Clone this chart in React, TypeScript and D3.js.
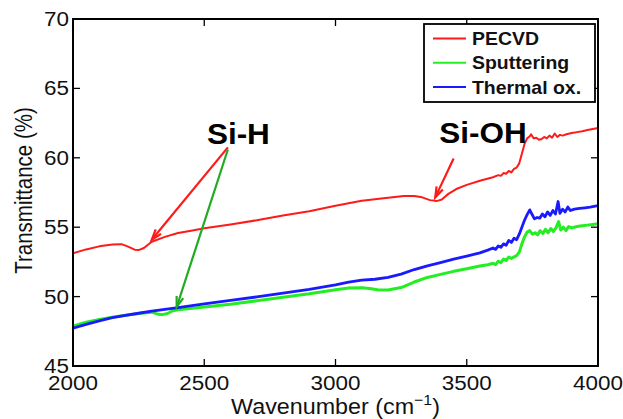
import React from "react";
import * as d3 from "d3";

const xTicks = [2000, 2500, 3000, 3500, 4000];
const yTicks = [45, 50, 55, 60, 65, 70];
const seriesNames = ["PECVD", "Sputtering", "Thermal ox."];
const seriesColors = ["#ff1a1a", "#22ee22", "#1a1aff"];

const pecvd: [number, number][] = [
  [2000, 53.12], [2050, 53.4], [2100, 53.62], [2150, 53.76], [2185, 53.78], [2210, 53.6], [2235, 53.38],
  [2250, 53.35], [2270, 53.5], [2300, 53.95], [2350, 54.3], [2400, 54.58], [2450, 54.75], [2500, 54.92],
  [2600, 55.2], [2700, 55.5], [2800, 55.85], [2900, 56.15], [3000, 56.55], [3100, 56.9], [3200, 57.12],
  [3260, 57.24], [3300, 57.25], [3330, 57.15], [3360, 56.95], [3385, 56.88], [3405, 57.0], [3430, 57.4],
  [3460, 57.75], [3500, 58.05], [3550, 58.35], [3600, 58.6], [3620, 58.75], [3630, 58.7], [3640, 58.9],
  [3650, 58.85], [3660, 59.05], [3670, 58.95], [3680, 59.2], [3690, 59.3], [3700, 59.6], [3710, 60.3],
  [3720, 61.0], [3730, 61.4], [3740, 61.55], [3745, 61.7], [3755, 61.4], [3765, 61.45], [3775, 61.3],
  [3785, 61.35], [3795, 61.5], [3805, 61.4], [3815, 61.6], [3825, 61.45], [3835, 61.75], [3845, 61.5],
  [3855, 61.65], [3865, 61.6], [3880, 61.7], [3900, 61.78], [3920, 61.85], [3940, 61.92], [3960, 62.0],
  [3980, 62.08], [4000, 62.15],
];

const sputtering: [number, number][] = [
  [2000, 47.88], [2050, 48.15], [2100, 48.35], [2150, 48.52], [2200, 48.65], [2250, 48.78], [2300, 48.88],
  [2320, 48.75], [2340, 48.7], [2360, 48.78], [2380, 48.98], [2400, 49.05], [2500, 49.25], [2600, 49.45],
  [2700, 49.7], [2800, 49.95], [2900, 50.2], [3000, 50.5], [3050, 50.62], [3100, 50.64], [3130, 50.58],
  [3160, 50.5], [3200, 50.48], [3250, 50.65], [3300, 51.05], [3350, 51.38], [3400, 51.6], [3450, 51.82],
  [3500, 52.0], [3550, 52.2], [3580, 52.3], [3600, 52.4], [3610, 52.3], [3620, 52.55], [3630, 52.45],
  [3640, 52.7], [3650, 52.6], [3660, 52.85], [3670, 52.75], [3690, 52.95], [3700, 53.2], [3710, 53.8],
  [3720, 54.3], [3730, 54.65], [3740, 54.75], [3750, 54.5], [3760, 54.6], [3770, 54.45], [3780, 54.75],
  [3790, 54.55], [3800, 54.85], [3810, 54.6], [3820, 54.9], [3830, 54.7], [3840, 54.95], [3850, 55.4],
  [3858, 54.8], [3868, 55.0], [3878, 54.75], [3888, 55.05], [3900, 54.95], [3920, 55.05], [3940, 55.1],
  [3960, 55.15], [3980, 55.2], [4000, 55.25],
];

const thermal: [number, number][] = [
  [2000, 47.72], [2050, 48.0], [2100, 48.25], [2150, 48.48], [2200, 48.65], [2250, 48.8], [2300, 48.95],
  [2350, 49.08], [2400, 49.2], [2500, 49.48], [2600, 49.72], [2700, 49.98], [2800, 50.25], [2900, 50.52],
  [3000, 50.85], [3050, 51.05], [3100, 51.18], [3150, 51.25], [3200, 51.38], [3250, 51.62], [3300, 51.95],
  [3350, 52.22], [3400, 52.45], [3450, 52.7], [3500, 52.92], [3550, 53.15], [3580, 53.35], [3600, 53.5],
  [3610, 53.4], [3620, 53.65], [3630, 53.55], [3640, 53.8], [3650, 53.7], [3660, 54.05], [3670, 53.9],
  [3680, 54.2], [3690, 54.1], [3700, 54.5], [3710, 55.0], [3720, 55.5], [3730, 55.9], [3740, 56.25],
  [3748, 55.95], [3758, 55.6], [3768, 55.7], [3778, 55.65], [3788, 55.95], [3798, 55.75], [3808, 56.1],
  [3818, 55.85], [3828, 56.2], [3838, 55.95], [3848, 56.85], [3855, 56.0], [3865, 56.3], [3875, 56.1],
  [3885, 56.45], [3895, 56.2], [3910, 56.3], [3930, 56.35], [3950, 56.4], [3970, 56.45], [3985, 56.5],
  [4000, 56.55],
];

// annotations: [label, text x (wavenumber), text baseline (value)]
const siH = { label: "Si-H", w: 2510, v: 61.0 };
const siOH = { label: "Si-OH", w: 3395, v: 61.1 };
// arrows: from (w, v) to (w, v)
const arrows = [
  { from: [2590, 60.75], to: [2300, 54.1], color: "#ff1a1a" },
  { from: [2590, 60.6], to: [2395, 49.25], color: "#22aa22" },
  { from: [3450, 59.95], to: [3380, 57.15], color: "#ff1a1a" },
];

const W = 623;
const H = 419;
const M = { left: 73, right: 598, top: 19, bottom: 366 };
const FONT = "'Liberation Sans', Arial, Helvetica, sans-serif";
const SX = 1.15;

export default function App() {
  const x = d3.scaleLinear().domain([2000, 4000]).range([M.left, M.right]);
  const y = d3.scaleLinear().domain([45, 70]).range([M.bottom, M.top]);
  const line = d3
    .line<[number, number]>()
    .x((d) => x(d[0]))
    .y((d) => y(d[1]))
    .curve(d3.curveLinear);

  const series = [
    { data: pecvd, color: seriesColors[0], width: 2 },
    { data: sputtering, color: seriesColors[1], width: 3 },
    { data: thermal, color: seriesColors[2], width: 2.8 },
  ];

  const tick = 7;

  const arrowHead = (fx: number, fy: number, tx: number, ty: number) => {
    const ang = Math.atan2(ty - fy, tx - fx);
    const len = 11;
    const half = 0.32;
    const p1 = [tx - len * Math.cos(ang - half), ty - len * Math.sin(ang - half)];
    const p2 = [tx - len * Math.cos(ang + half), ty - len * Math.sin(ang + half)];
    return `M${p1[0]},${p1[1]}L${tx},${ty}L${p2[0]},${p2[1]}`;
  };

  return (
    <svg
      width={W}
      height={H}
      style={{ position: "absolute", left: 0, top: 0, background: "#fff" }}
      fontFamily={FONT}
    >
      <rect x={0} y={0} width={W} height={H} fill="#fff" />
      <defs>
        <clipPath id="plotclip">
          <rect x={M.left} y={M.top} width={M.right - M.left} height={M.bottom - M.top} />
        </clipPath>
      </defs>

      {/* series */}
      <g clipPath="url(#plotclip)">
        {series.map((s, i) => (
          <path
            key={i}
            d={line(s.data) || ""}
            fill="none"
            stroke={s.color}
            strokeWidth={s.width}
            strokeLinejoin="round"
          />
        ))}
      </g>

      {/* frame */}
      <rect
        x={M.left}
        y={M.top}
        width={M.right - M.left}
        height={M.bottom - M.top}
        fill="none"
        stroke="#000"
        strokeWidth={2}
      />

      {/* x ticks */}
      {xTicks.map((t) => (
        <g key={"x" + t}>
          {t > 2000 && t < 4000 && (
            <>
              <line x1={x(t)} x2={x(t)} y1={M.bottom} y2={M.bottom - tick} stroke="#000" strokeWidth={1.3} />
              <line x1={x(t)} x2={x(t)} y1={M.top} y2={M.top + tick} stroke="#000" strokeWidth={1.3} />
            </>
          )}
          <text
            transform={`translate(${x(t)},${M.bottom + 24}) scale(${SX},1)`}
            textAnchor="middle"
            fontSize={19.5}
            fill="#111"
          >
            {t}
          </text>
        </g>
      ))}

      {/* y ticks */}
      {yTicks.map((t) => (
        <g key={"y" + t}>
          {t > 45 && t < 70 && (
            <>
              <line x1={M.left} x2={M.left + tick} y1={y(t)} y2={y(t)} stroke="#000" strokeWidth={1.3} />
              <line x1={M.right} x2={M.right - tick} y1={y(t)} y2={y(t)} stroke="#000" strokeWidth={1.3} />
            </>
          )}
          <text
            transform={`translate(${M.left - 4},${y(t) + 7}) scale(${SX},1)`}
            textAnchor="end"
            fontSize={19.5}
            fill="#111"
          >
            {t}
          </text>
        </g>
      ))}

      {/* axis titles */}
      <text
        transform={`translate(${(M.left + M.right) / 2},${413.5}) scale(1.06,1)`}
        textAnchor="middle"
        fontSize={22}
        fill="#111"
      >
        Wavenumber (cm
        <tspan fontSize={15} dy={-9}>−1</tspan>
        <tspan dy={9}>)</tspan>
      </text>
      <text
        transform={`translate(${32},${(M.top + M.bottom) / 2 - 2}) scale(1.2,1) rotate(-90)`}
        textAnchor="middle"
        fontSize={20.5}
        fill="#111"
      >
        Transmittance (%)
      </text>

      {/* legend */}
      <rect x={424} y={24} width={171} height={78} fill="#fff" stroke="#000" strokeWidth={1.8} />
      {seriesNames.map((n, i) => (
        <g key={n}>
          <line x1={433} x2={466} y1={38.5 + i * 24.3} y2={38.5 + i * 24.3} stroke={seriesColors[i]} strokeWidth={2} />
          <text
            transform={`translate(${472},${45 + i * 24.3}) scale(1.08,1)`}
            fontSize={18}
            fontWeight="bold"
            fill="#111"
          >
            {n}
          </text>
        </g>
      ))}

      {/* annotations */}
      {arrows.map((a, i) => {
        const fx = x(a.from[0]);
        const fy = y(a.from[1]);
        const tx = x(a.to[0]);
        const ty = y(a.to[1]);
        return (
          <g key={"a" + i}>
            <line x1={fx} y1={fy} x2={tx} y2={ty} stroke={a.color} strokeWidth={2.2} />
            <path d={arrowHead(fx, fy, tx, ty)} fill="none" stroke={a.color} strokeWidth={2.2} strokeLinejoin="miter" />
          </g>
        );
      })}
      {[siH, siOH].map((s) => (
        <text
          key={s.label}
          transform={`translate(${x(s.w)},${y(s.v)}) scale(1.05,1)`}
          fontSize={30}
          fontWeight="bold"
          fill="#000"
        >
          {s.label}
        </text>
      ))}
    </svg>
  );
}
